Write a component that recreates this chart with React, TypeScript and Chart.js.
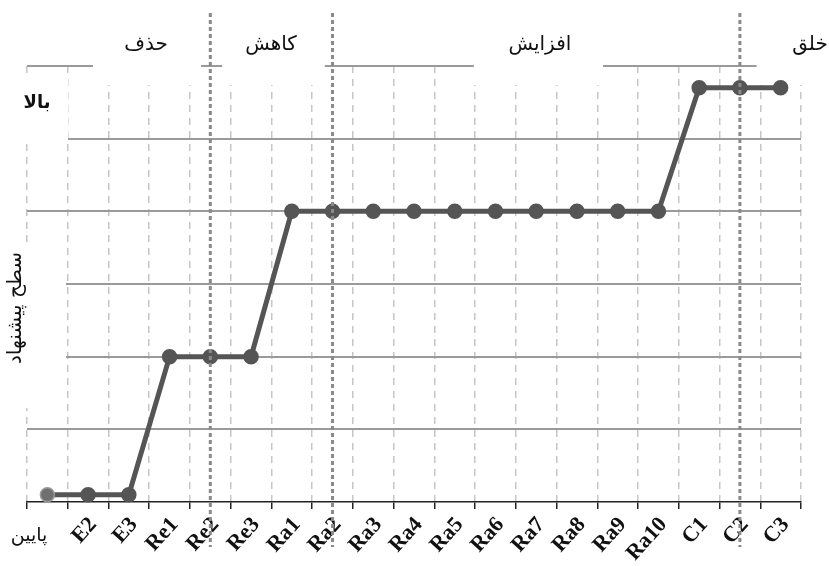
import React, { useEffect, useRef } from "react";
import { Chart, registerables } from "chart.js";

Chart.register(...registerables);

// ---- data ----
const categories = ["پایین", "E2", "E3", "Re1", "Re2", "Re3", "Ra1", "Ra2", "Ra3", "Ra4", "Ra5", "Ra6", "Ra7", "Ra8", "Ra9", "Ra10", "C1", "C2", "C3"];
const offerLevel = [0.1, 0.1, 0.1, 2, 2, 2, 4, 4, 4, 4, 4, 4, 4, 4, 4, 4, 5.7, 5.7, 5.7];
const yMin = 0;
const yMax = 6;
const separators = ["Re2", "Ra2", "C2"];
const groupNames = ["حذف", "کاهش", "افزایش", "خلق"];
const yTitle = "سطح پیشنهاد";
const highLabel = "بالا";

// ---- layout (category-index units for header placement) ----
const groupCenters = [2.42, 5.49, 12.09, 18.72];
const groupGaps: [number, number][] = [[1.12, 3.77], [4.29, 6.81], [10.47, 13.64], [17.41, 20]];

const PERSIAN = '"DejaVu Sans", sans-serif';
const LATIN_BOLD = 'bold 22px "Liberation Serif", "Times New Roman", serif';

const decor = {
  id: "decor",
  beforeDatasetsDraw(chart: any) {
    const { ctx, chartArea, scales } = chart;
    const x = scales.x;
    ctx.save();
    ctx.fillStyle = "#ffffff";
    // white gaps in the header line
    groupGaps.forEach(([a, b]) => {
      const x1 = x.getPixelForValue(a);
      const x2 = Math.min(x.getPixelForValue(b), chart.width);
      ctx.fillRect(x1, 0, x2 - x1, chartArea.top + 19);
    });
    // box behind "high" label
    ctx.fillRect(0, chartArea.top + 8, chartArea.left + 41, 67);
    // box behind the y title
    ctx.fillRect(0, chartArea.top + 177, chartArea.left + 39, 165);

    // header texts
    ctx.fillStyle = "#111";
    ctx.font = `20px ${PERSIAN}`;
    ctx.textAlign = "center";
    ctx.textBaseline = "middle";
    groupNames.forEach((n, i) => {
      const px = x.getPixelForValue(groupCenters[i]);
      ctx.fillText(n, px, chartArea.top - 21);
    });

    // "high"
    ctx.font = `bold 18px ${PERSIAN}`;
    ctx.fillText(highLabel, chartArea.left + 10, chartArea.top + 37);

    // y title
    ctx.save();
    ctx.translate(chartArea.left - 11, chartArea.top + 242);
    ctx.rotate(-Math.PI / 2);
    ctx.font = `20px ${PERSIAN}`;
    ctx.fillText(yTitle, 0, 0);
    ctx.restore();
    ctx.restore();
  },
  afterDraw(chart: any) {
    const { ctx, chartArea, scales } = chart;
    const x = scales.x;
    ctx.save();
    ctx.fillStyle = "#111";
    categories.forEach((c, i) => {
      const cx = x.getPixelForValue(i);
      if (i === 0) {
        ctx.font = `19px ${PERSIAN}`;
        ctx.textAlign = "right";
        ctx.textBaseline = "middle";
        ctx.fillText(c, cx, chartArea.bottom + 34);
      } else {
        ctx.save();
        ctx.translate(cx + 5, chartArea.bottom + 19);
        ctx.rotate(-Math.PI * 48 / 180);
        ctx.font = LATIN_BOLD;
        ctx.textAlign = "right";
        ctx.textBaseline = "middle";
        ctx.fillText(c, 0, 0);
        ctx.restore();
      }
    });
    // dotted separators
    ctx.strokeStyle = "#8a8a8a";
    ctx.lineWidth = 3;
    ctx.setLineDash([4, 3]);
    separators.forEach((s) => {
      const px = x.getPixelForValue(categories.indexOf(s));
      ctx.beginPath();
      ctx.moveTo(px, 13);
      ctx.lineTo(px, chartArea.bottom + 45);
      ctx.stroke();
    });
    ctx.restore();
  },
};

export default function App() {
  const ref = useRef<HTMLCanvasElement>(null);
  useEffect(() => {
    const chart = new Chart(ref.current as HTMLCanvasElement, {
      type: "line",
      data: {
        labels: categories,
        datasets: [
          {
            data: offerLevel,
            borderColor: "#555555",
            borderWidth: 5,
            tension: 0,
            pointRadius: 7,
            pointBackgroundColor: offerLevel.map((_, i) => (i === 0 ? "#707070" : "#555555")),
            pointBorderColor: offerLevel.map((_, i) => (i === 0 ? "#9a9a9a" : "#555555")),
            pointBorderWidth: 1.5,
            clip: false as any,
          },
        ],
      },
      options: {
        responsive: false,
        animation: false,
        devicePixelRatio: 1,
        layout: { padding: { left: 27, right: 28, top: 66, bottom: 57 } },
        plugins: { legend: { display: false }, tooltip: { enabled: false } },
        scales: {
          x: {
            type: "category",
            offset: true,
            grid: {
              offset: true,
              color: "#c6c6c6",
              lineWidth: 1.5,
              drawTicks: true,
              tickLength: 7,
              tickColor: "#222",
              tickWidth: 1.5,
              tickBorderDash: [],
            } as any,
            border: { display: true, color: "#222", width: 1.5, dash: [7, 6] } as any,
            ticks: { display: false },
          },
          y: {
            min: yMin,
            max: yMax,
            ticks: { display: false, stepSize: 1 },
            grid: {
              color: (c: any) => (c.tick && c.tick.value === 0 ? "rgba(0,0,0,0)" : "#9a9a9a"),
              lineWidth: 2,
              drawTicks: false,
            },
            border: { display: false },
          },
        },
      },
      plugins: [decor],
    });
    return () => chart.destroy();
  }, []);
  return (
    <div style={{ position: "absolute", left: 0, top: 0, width: 829, height: 566, background: "#fff" }}>
      <canvas ref={ref} width={829} height={566} style={{ display: "block", width: 829, height: 566 }} />
    </div>
  );
}
